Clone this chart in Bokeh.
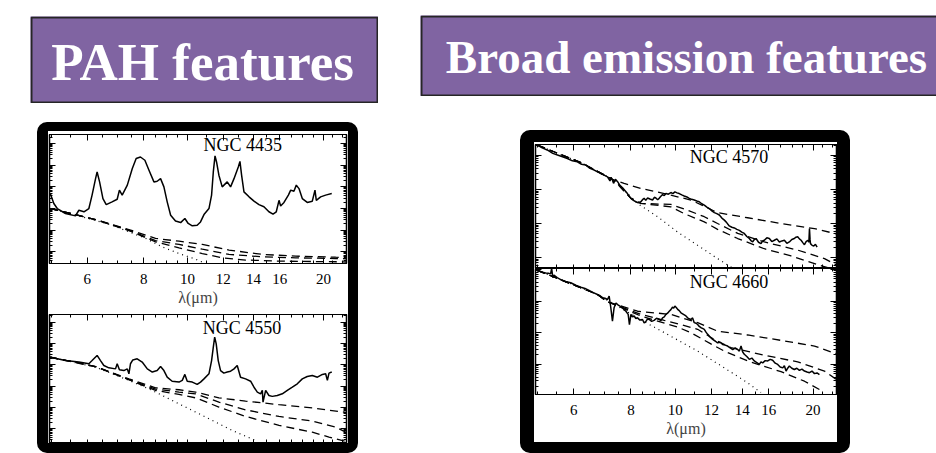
import math
from bokeh.plotting import figure
from bokeh.layouts import row, column
from bokeh.models import (Range1d, FixedTicker, LogAxis, LinearAxis, Label, Spacer,
                          NumeralTickFormatter)
from bokeh.core.properties import value
from bokeh.embed import file_html
from bokeh.resources import INLINE

PURPLE = "#8064A2"
SERIF = "Liberation Serif"

title_left = "PAH features"
title_right = "Broad emission features"

x_major = [6, 8, 10, 12, 14, 16, 20]
x_minor = [5, 5.5, 6.5, 7, 7.5, 8.5, 9, 9.5, 11, 13, 15, 17, 18, 19, 21, 22]
x_label = "λ(μm)"
x_lo, x_hi = 4.95, 22.5

# ---------------- NGC 4435 (PAH) ----------------
n4435_wl = [4.97, 5.06, 5.15, 5.37, 5.65, 5.75, 5.90, 6.05, 6.15, 6.26, 6.31, 6.39, 6.50, 6.61, 6.81,
            6.99, 7.07, 7.17, 7.36, 7.55, 7.70, 7.87, 8.05, 8.22, 8.43, 8.57, 8.72, 8.87, 9.02, 9.18,
            9.41, 9.66, 9.87, 10.04, 10.25, 10.51, 10.69, 10.88, 11.16, 11.31, 11.41, 11.51, 11.60,
            11.74, 11.94, 12.25, 12.46, 12.68, 12.96, 13.07, 13.18, 13.34, 13.69, 14.04, 14.40, 14.77,
            15.15, 15.47, 15.73, 15.95, 16.08, 16.36, 16.73, 16.93, 17.21, 17.42, 17.66, 17.96, 18.42,
            18.90, 19.16, 19.29, 19.72, 20.23, 20.87]
n4435_fl = [2.69, 2.23, 2.00, 1.77, 1.66, 1.92, 1.85, 2.00, 2.62, 3.38, 3.69, 3.23, 2.46, 2.18, 2.31,
            2.43, 2.85, 2.62, 3.08, 3.85, 4.31, 4.38, 4.23, 3.77, 3.23, 3.26, 3.38, 3.00, 2.31, 1.69,
            1.42, 1.35, 1.54, 1.31, 1.20, 1.23, 1.38, 1.72, 2.00, 2.62, 3.69, 4.43, 4.15, 3.54, 3.00,
            3.23, 3.00, 3.38, 3.92, 4.18, 3.54, 2.77, 2.54, 2.34, 2.18, 2.08, 1.85, 1.74, 1.85, 2.38,
            2.12, 2.28, 2.62, 2.85, 2.80, 3.08, 2.92, 2.46, 2.28, 2.34, 2.85, 2.38, 2.54, 2.62, 2.69]
n4435_dot_wl = [4.97, 5.75, 6.81, 8.08, 8.79, 9.58, 10.43, 10.97]
n4435_dot_fl = [2.0, 1.66, 1.23, 0.62, 0.23, -0.08, -0.34, -0.54]
n4435_da_wl = [4.97, 6.26, 7.42, 8.50, 9.58, 10.79, 12.36, 14.65, 17.37, 21.30, 22.5]
n4435_da_fl = [2.0, 1.49, 1.03, 0.62, 0.49, 0.34, 0.08, -0.12, -0.20, -0.25, -0.26]
n4435_db_wl = [4.97, 6.26, 7.42, 8.50, 9.58, 10.79, 12.36, 14.65, 17.37, 21.30, 22.5]
n4435_db_fl = [2.0, 1.49, 1.00, 0.52, 0.34, 0.12, -0.12, -0.23, -0.28, -0.31, -0.32]
n4435_dc_wl = [4.97, 6.26, 7.42, 8.50, 9.58, 10.79, 11.94, 13.45, 15.95, 21.30, 22.5]
n4435_dc_fl = [2.0, 1.49, 0.98, 0.46, 0.18, -0.08, -0.28, -0.38, -0.43, -0.46, -0.47]

# ---------------- NGC 4550 (PAH) ----------------
n4550_wl = [4.97, 5.37, 5.75, 6.05, 6.15, 6.31, 6.42, 6.53, 6.70, 6.93, 6.99, 7.07, 7.23, 7.36, 7.42,
            7.48, 7.57, 7.74, 7.94, 8.15, 8.36, 8.57, 8.72, 8.87, 9.02, 9.25, 9.58, 9.74, 9.87, 9.99,
            10.25, 10.51, 10.69, 10.88, 11.16, 11.31, 11.41, 11.49, 11.58, 11.70, 11.84, 12.04, 12.25,
            12.46, 12.68, 12.89, 13.11, 13.45, 13.80, 14.04, 14.28, 14.52, 14.65, 14.70, 14.90, 15.15,
            15.41, 15.81, 16.22, 16.64, 17.07, 17.51, 17.96, 18.42, 18.90, 19.40, 19.90, 20.23, 20.41,
            20.58, 20.87]
n4550_fl = [3.36, 3.20, 3.13, 3.05, 3.20, 3.44, 3.20, 2.97, 2.86, 2.81, 3.05, 2.77, 2.73, 2.81, 2.58,
            3.05, 3.23, 3.28, 3.13, 2.81, 2.66, 2.73, 2.92, 2.73, 2.42, 2.23, 2.19, 2.27, 2.55, 2.23,
            2.19, 2.08, 2.19, 2.34, 2.58, 3.20, 3.83, 4.30, 3.98, 3.20, 2.73, 2.61, 2.66, 2.70, 2.81,
            2.97, 2.42, 2.34, 2.23, 1.95, 1.72, 1.64, 1.80, 1.25, 1.80, 1.56, 1.52, 1.56, 1.64, 1.80,
            1.95, 2.11, 2.34, 2.45, 2.50, 2.42, 2.55, 2.58, 2.27, 2.61, 2.66]
n4550_dot_wl = [4.97, 6.26, 7.42, 8.36, 9.58, 10.97, 12.57, 14.16]
n4550_dot_fl = [3.36, 2.89, 2.27, 1.80, 1.17, 0.55, -0.08, -0.55]
n4550_da_wl = [4.97, 6.26, 7.42, 8.50, 9.58, 10.43, 11.74, 13.45, 15.95, 18.90, 21.66, 22.5]
n4550_da_fl = [3.36, 2.92, 2.34, 1.92, 1.83, 1.72, 1.45, 1.30, 1.13, 0.98, 0.81, 0.77]
n4550_db_wl = [4.97, 6.26, 7.42, 8.50, 9.58, 10.43, 11.74, 13.45, 15.95, 18.90, 21.30, 22.41]
n4550_db_fl = [3.36, 2.92, 2.31, 1.86, 1.72, 1.64, 1.25, 0.89, 0.58, 0.36, 0.08, -0.16]
n4550_dc_wl = [4.97, 6.26, 7.42, 8.50, 9.58, 10.43, 11.74, 13.45, 15.95, 18.90, 20.58, 22.5]
n4550_dc_fl = [3.36, 2.92, 2.30, 1.80, 1.61, 1.45, 1.02, 0.58, 0.16, -0.16, -0.39, -0.60]

# ---------------- NGC 4570 (broad) ----------------
n4570_wl = [5.00, 5.12, 5.25, 5.40, 5.53, 5.67, 5.81, 5.96, 6.11, 6.24, 6.37, 6.51, 6.65, 6.76, 6.87,
            6.99, 7.11, 7.20, 7.24, 7.29, 7.33, 7.40, 7.48, 7.57, 7.67, 7.76, 7.86, 7.93, 8.00, 8.10,
            8.20, 8.30, 8.41, 8.48, 8.55, 8.62, 8.70, 8.80, 8.92, 9.00, 9.07, 9.15, 9.22, 9.30, 9.38,
            9.46, 9.54, 9.66, 9.78, 9.88, 9.98, 10.09, 10.20, 10.33, 10.46, 10.60, 10.73, 10.86, 11.00,
            11.14, 11.28, 11.42, 11.57, 11.72, 11.87, 12.02, 12.17, 12.32, 12.48, 12.64, 12.80, 12.96,
            13.12, 13.29, 13.46, 13.63, 13.80, 13.97, 14.15, 14.33, 14.51, 14.63, 14.76, 14.88, 15.01,
            15.20, 15.39, 15.52, 15.65, 15.85, 16.05, 16.25, 16.46, 16.67, 16.88, 17.10, 17.31, 17.53,
            17.75, 17.97, 18.20, 18.35, 18.51, 18.67, 18.83, 18.99, 19.15, 19.31, 19.48, 19.58, 19.64,
            19.70, 19.74, 19.90, 20.07, 20.24, 20.41]
n4570_fl = [3.30, 3.22, 3.16, 3.06, 3.01, 2.96, 2.91, 2.84, 2.81, 2.74, 2.72, 2.62, 2.57, 2.52, 2.47,
            2.42, 2.37, 2.25, 2.36, 2.27, 2.18, 2.30, 2.23, 2.12, 2.05, 1.97, 1.88, 1.80, 1.74, 1.68,
            1.64, 1.61, 1.64, 1.70, 1.74, 1.68, 1.75, 1.72, 1.69, 1.77, 1.75, 1.70, 1.74, 1.80, 1.85,
            1.82, 1.88, 1.86, 1.91, 1.88, 1.93, 1.90, 1.88, 1.84, 1.81, 1.78, 1.74, 1.71, 1.69, 1.66,
            1.64, 1.58, 1.54, 1.48, 1.44, 1.37, 1.32, 1.29, 1.25, 1.16, 1.10, 1.02, 0.93, 0.89, 0.87,
            0.83, 0.80, 0.75, 0.71, 0.62, 0.56, 0.50, 0.46, 0.53, 0.56, 0.45, 0.41, 0.49, 0.51, 0.58,
            0.56, 0.47, 0.51, 0.55, 0.46, 0.49, 0.51, 0.42, 0.46, 0.53, 0.56, 0.60, 0.61, 0.55, 0.51,
            0.44, 0.38, 0.47, 0.51, 0.45, 0.85, 0.52, 0.41, 0.36, 0.34, 0.39, 0.31]
n4570_dot_wl = [5.00, 6.22, 7.35, 8.27, 9.15, 10.12, 11.19, 12.37, 13.46]
n4570_dot_fl = [3.30, 2.79, 2.27, 1.59, 1.20, 0.75, 0.36, -0.03, -0.34]
n4570_da_wl = [5.00, 6.22, 7.35, 7.73, 8.41, 9.46, 10.82, 12.37, 14.39, 17.02, 20.14, 22.27, 22.6]
n4570_da_fl = [3.30, 2.79, 2.27, 2.18, 2.03, 1.88, 1.69, 1.32, 1.17, 1.00, 0.85, 0.71, 0.69]
n4570_db_wl = [5.00, 6.22, 7.35, 8.00, 8.41, 9.78, 10.64, 11.57, 12.37, 13.69, 15.65, 18.51, 21.18, 22.46]
n4570_db_fl = [3.30, 2.79, 2.27, 1.74, 1.59, 1.56, 1.39, 1.20, 1.00, 0.71, 0.46, 0.22, -0.03, -0.21]
n4570_dc_wl = [5.00, 6.22, 7.35, 8.00, 8.41, 9.78, 10.46, 11.57, 12.37, 13.69, 15.65, 17.90, 20.48, 22.46]
n4570_dc_fl = [3.30, 2.79, 2.27, 1.74, 1.59, 1.49, 1.29, 1.05, 0.83, 0.56, 0.26, 0.05, -0.21, -0.37]

# ---------------- NGC 4660 (broad) ----------------
n4660_wl = [5.00, 5.10, 5.21, 5.28, 5.34, 5.37, 5.40, 5.43, 5.52, 5.62, 5.76, 5.91, 6.06, 6.22, 6.35,
            6.48, 6.62, 6.76, 6.85, 6.93, 7.02, 7.11, 7.17, 7.23, 7.29, 7.35, 7.42, 7.48, 7.57, 7.67,
            7.74, 7.80, 7.89, 7.94, 8.00, 8.06, 8.13, 8.20, 8.27, 8.37, 8.48, 8.55, 8.62, 8.70, 8.77,
            8.88, 8.99, 9.10, 9.22, 9.30, 9.38, 9.46, 9.54, 9.62, 9.70, 9.78, 9.86, 9.92, 9.98, 10.05,
            10.12, 10.20, 10.29, 10.42, 10.55, 10.68, 10.82, 10.91, 11.00, 11.10, 11.19, 11.28, 11.38,
            11.47, 11.57, 11.67, 11.77, 11.92, 12.07, 12.22, 12.37, 12.53, 12.69, 12.85, 13.01, 13.18,
            13.35, 13.52, 13.69, 13.80, 13.92, 14.03, 14.15, 14.33, 14.51, 14.70, 14.88, 15.07, 15.26,
            15.39, 15.52, 15.72, 15.92, 16.12, 16.32, 16.53, 16.74, 16.95, 17.17, 17.31, 17.46, 17.60,
            17.75, 17.97, 18.20, 18.43, 18.67, 18.91, 19.15, 19.40, 19.64, 19.89, 20.14, 20.40, 20.65]
n4660_fl = [2.97, 2.92, 2.89, 2.88, 2.86, 3.03, 2.74, 2.82, 2.74, 2.68, 2.62, 2.58, 2.50, 2.44, 2.40,
            2.34, 2.27, 2.21, 2.17, 2.11, 2.09, 2.05, 2.16, 1.79, 1.37, 1.79, 1.94, 1.89, 1.84, 1.79,
            1.72, 1.68, 1.58, 1.26, 1.58, 1.50, 1.53, 1.45, 1.47, 1.40, 1.42, 1.31, 1.35, 1.44, 1.42,
            1.36, 1.39, 1.46, 1.42, 1.38, 1.47, 1.50, 1.58, 1.62, 1.68, 1.73, 1.81, 1.78, 1.84, 1.80,
            1.74, 1.70, 1.63, 1.58, 1.53, 1.45, 1.42, 1.47, 1.32, 1.30, 1.26, 1.20, 1.16, 1.14, 1.11,
            1.02, 0.95, 0.86, 0.79, 0.74, 0.68, 0.70, 0.63, 0.61, 0.58, 0.52, 0.47, 0.52, 0.47, 0.42,
            0.58, 0.40, 0.32, 0.25, 0.16, 0.20, 0.11, 0.06, 0.00, 0.08, 0.05, 0.12, 0.11, 0.16, 0.13,
            0.04, 0.00, -0.08, -0.11, -0.04, -0.21, -0.12, -0.05, -0.12, -0.16, -0.12, -0.19, -0.15,
            -0.21, -0.24, -0.26, -0.21, -0.29, -0.27, -0.32]
n4660_dot_wl = [5.00, 6.76, 8.55, 9.78, 11.19, 12.80, 14.39, 15.39]
n4660_dot_fl = [2.97, 2.21, 1.35, 0.89, 0.42, -0.11, -0.58, -0.89]
n4660_da_wl = [5.00, 6.76, 7.11, 8.27, 9.78, 11.19, 12.37, 14.39, 17.02, 20.14, 22.46]
n4660_da_fl = [2.97, 2.21, 1.98, 1.68, 1.58, 1.32, 1.05, 0.93, 0.76, 0.58, 0.34]
n4660_db_wl = [5.00, 6.76, 7.11, 8.41, 9.46, 10.29, 11.19, 12.17, 13.23, 15.65, 18.51, 21.18, 22.46]
n4660_db_fl = [2.97, 2.21, 1.98, 1.58, 1.39, 1.26, 1.11, 0.79, 0.53, 0.29, 0.08, -0.21, -0.47]
n4660_dc_wl = [5.00, 6.76, 7.11, 8.41, 9.15, 10.12, 10.82, 11.96, 12.80, 14.39, 17.02, 19.15, 20.82]
n4660_dc_fl = [2.97, 2.21, 1.98, 1.53, 1.37, 1.18, 1.00, 0.65, 0.42, 0.11, -0.23, -0.53, -0.82]


def tick_only(ax, positions, length):
    """Axis drawn with inward ticks only (no labels)."""
    ax.ticker = FixedTicker(ticks=[], minor_ticks=positions)
    ax.major_tick_in = 0
    ax.major_tick_out = 0
    ax.minor_tick_in = length
    ax.minor_tick_out = 0
    ax.minor_tick_line_color = "black"
    ax.axis_line_color = "black"
    ax.axis_line_width = 1.2
    ax.major_label_standoff = 0
    ax.axis_label = None


def spec_fig(width, height, ylo, yhi, bl, br, bt, bb, show_x):
    p = figure(width=width, height=height, x_axis_type="log",
               x_range=Range1d(x_lo, x_hi), y_range=Range1d(ylo, yhi),
               output_backend="svg", toolbar_location=None,
               min_border_left=bl, min_border_right=br, min_border_top=bt, min_border_bottom=bb,
               background_fill_color="white", border_fill_color="white",
               outline_line_color="black", outline_line_width=1.2)
    p.grid.visible = False
    ymaj = [k for k in range(-3, 8) if ylo < k < yhi]
    ymin = [k + math.log10(m) for k in range(-3, 8) for m in range(2, 10)
            if ylo < k + math.log10(m) < yhi]
    xb = p.xaxis[0]
    if show_x:
        xb.ticker = FixedTicker(ticks=x_major, minor_ticks=x_minor)
        xb.major_tick_in = 6
        xb.major_tick_out = 0
        xb.minor_tick_in = 3
        xb.minor_tick_out = 0
        xb.axis_line_width = 1.2
        xb.formatter = NumeralTickFormatter(format="0")
        xb.major_label_text_font = SERIF
        xb.major_label_text_font_size = "15px"
        xb.major_label_text_color = "black"
        xb.major_label_standoff = 10
        xb.axis_label = x_label
        xb.axis_label_text_font = SERIF
        xb.axis_label_text_font_size = "16px"
        xb.axis_label_text_font_style = "normal"
        xb.axis_label_standoff = 2
    else:
        tick_only(xb, x_major + x_minor, 4)
    tick_only(p.yaxis[0], ymaj, 6)
    yl2 = LinearAxis()
    tick_only(yl2, ymin, 3)
    p.add_layout(yl2, "left")
    a1 = LinearAxis(); tick_only(a1, ymaj, 6); p.add_layout(a1, "right")
    a2 = LinearAxis(); tick_only(a2, ymin, 3); p.add_layout(a2, "right")
    a3 = LogAxis(); tick_only(a3, x_major, 6); p.add_layout(a3, "above")
    a4 = LogAxis(); tick_only(a4, x_minor, 3); p.add_layout(a4, "above")
    return p


def draw(p, wl, fl, dot, da, db, dc, name, lx, ly):
    p.line(dot[0], dot[1], line_color="black", line_width=1.2, line_dash="1 4")
    for d in (da, db, dc):
        p.line(d[0], d[1], line_color="black", line_width=1.3, line_dash="8 5")
    p.line(wl, fl, line_color="black", line_width=1.5)
    p.add_layout(Label(x=lx, y=ly, text=name, text_font=SERIF, text_font_size="18px",
                       text_align="center", text_baseline="middle", text_color="black"))


figA = spec_fig(300, 183, -0.54, 5.42, 1, 2, 3, 51, True)
draw(figA, n4435_wl, n4435_fl, (n4435_dot_wl, n4435_dot_fl), (n4435_da_wl, n4435_da_fl),
     (n4435_db_wl, n4435_db_fl), (n4435_dc_wl, n4435_dc_fl), "NGC 4435", 13.25, 4.95)
figB = spec_fig(300, 129, -0.69, 5.36, 1, 2, 0, 0, False)
draw(figB, n4550_wl, n4550_fl, (n4550_dot_wl, n4550_dot_fl), (n4550_da_wl, n4550_da_fl),
     (n4550_db_wl, n4550_db_fl), (n4550_dc_wl, n4550_dc_fl), "NGC 4550", 13.2, 4.75)
figC = spec_fig(303, 126, -0.32, 3.32, 1, 1, 2, 0, False)
draw(figC, n4570_wl, n4570_fl, (n4570_dot_wl, n4570_dot_fl), (n4570_da_wl, n4570_da_fl),
     (n4570_db_wl, n4570_db_fl), (n4570_dc_wl, n4570_dc_fl), "NGC 4570", 13.1, 2.94)
figD = spec_fig(303, 174, -0.95, 3.03, 1, 1, 0, 48, True)
draw(figD, n4660_wl, n4660_fl, (n4660_dot_wl, n4660_dot_fl), (n4660_da_wl, n4660_da_fl),
     (n4660_db_wl, n4660_db_fl), (n4660_dc_wl, n4660_dc_fl), "NGC 4660", 13.1, 2.61)


def title_fig(w, h, text, size, tx, ty, box_right):
    p = figure(width=w, height=h, x_range=Range1d(0, w), y_range=Range1d(0, h),
               x_axis_type=None, y_axis_type=None, min_border=0,
               output_backend="svg", toolbar_location=None,
               background_fill_color=PURPLE, border_fill_color="white", outline_line_color=None)
    p.quad(left=[1], right=[box_right], bottom=[1], top=[h - 1], fill_color=None,
           line_color="#262626", line_width=2)
    p.text(x=[tx], y=[ty], text=[text], text_font=value(SERIF), text_font_style="bold",
           text_font_size=size, text_color="white", text_align="center",
           text_baseline="middle")
    return p


tL = title_fig(348, 87, title_left, "53px", 172, 42, 347)
tR = title_fig(516, 81, title_right, "47px", 266, 40, 540)

panel_style_L = {"border-style": "solid", "border-color": "black",
                 "border-width": "9px 10px 10px 11px", "border-radius": "10px",
                 "background-color": "white", "box-sizing": "content-box"}
panel_style_R = {"border-style": "solid", "border-color": "black",
                 "border-width": "12px 13px 11px 14px", "border-radius": "10px",
                 "background-color": "white", "box-sizing": "content-box"}

panelL = column(figA, figB, spacing=0, styles=panel_style_L)
panelR = column(figC, figD, spacing=0, styles=panel_style_R)

left_col = column(Spacer(width=1, height=16), row(Spacer(width=30, height=1), tL, spacing=0),
                  Spacer(width=1, height=19), row(Spacer(width=37, height=1), panelL, spacing=0),
                  spacing=0)
right_col = column(Spacer(width=1, height=15), row(Spacer(width=42, height=1), tR, spacing=0),
                   Spacer(width=1, height=34), row(Spacer(width=142, height=1), panelR, spacing=0),
                   spacing=0)
layout = row(left_col, right_col, spacing=0)

open("out.html", "w").write(file_html(layout, INLINE))
